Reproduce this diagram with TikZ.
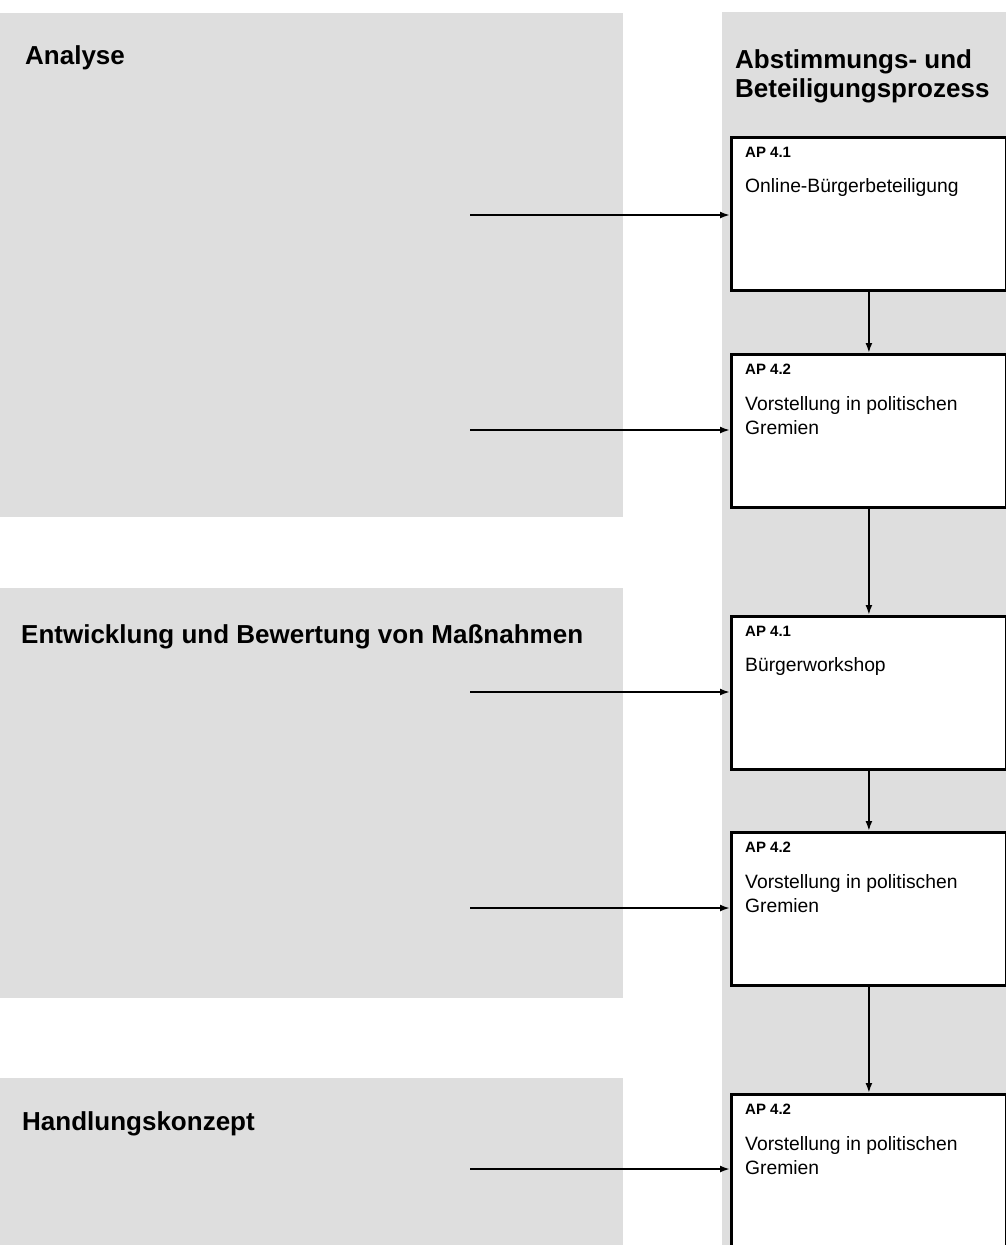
\documentclass[tikz,border=0pt]{standalone}
\usepackage{fontspec}
\setsansfont{Liberation Sans}
\usetikzlibrary{arrows.meta,positioning}
\definecolor{stipplegray}{HTML}{DEDEDE}

\begin{document}
\begin{tikzpicture}[
    x=1pt, y=-1pt,
    font=\sffamily,
    panel/.style={fill=stipplegray, inner sep=0pt, anchor=north west},
    heading/.style={font=\sffamily\bfseries\fontsize{26}{29}\selectfont, inner sep=0pt, align=left},
    apbox/.style={draw, line width=2.8pt, fill=white, minimum width=275pt, minimum height=153pt, anchor=north west, inner sep=0pt},
    aphead/.style={font=\sffamily\bfseries\fontsize{15}{18}\selectfont, inner sep=0pt},
    aptext/.style={font=\sffamily\fontsize{19.3}{24}\selectfont, inner sep=0pt, align=left},
    arrow/.style={-{Latex[length=10pt,width=7pt]}, line width=2.2pt}
]
\useasboundingbox (0,0) rectangle (1006,1245);

% stippled backgrounds
\node[panel, minimum width=623pt, minimum height=504pt] (analyse) at (0,13) {};
\node[panel, minimum width=623pt, minimum height=410pt] (massnahmen) at (0,588) {};
\node[panel, minimum width=623pt, minimum height=170pt] (konzept) at (0,1078) {};
\node[panel, minimum width=284pt, minimum height=1236pt] (prozess) at (722,12) {};

\node[heading, below right=32pt and 25pt of analyse.north west] (analysetitle) {Analyse};
\node[heading, below right=36pt and 21pt of massnahmen.north west] (massnahmentitle) {Entwicklung und Bewertung von Maßnahmen};
\node[heading, below right=33pt and 22pt of konzept.north west] (konzepttitle) {Handlungskonzept};
\node[heading, below right=37pt and 13pt of prozess.north west] (prozesstitle) {Abstimmungs- und\\Beteiligungsprozess};

% work packages
\node[apbox] (ap1) at (730,136) {};
\node[apbox] (ap2) at (730,353) {};
\node[apbox] (ap3) at (730,615) {};
\node[apbox] (ap4) at (730,831) {};
\node[apbox] (ap5) at (730,1093) {};

\node[aphead, below right=11pt and 15pt of ap1.north west] (ap1head) {AP 4.1};
\node[aptext, below right=21pt and 0pt of ap1head.south west] (ap1text) {Online-Bürgerbeteiligung};
\node[aphead, below right=11pt and 15pt of ap2.north west] (ap2head) {AP 4.2};
\node[aptext, below right=21pt and 0pt of ap2head.south west] (ap2text) {Vorstellung in politischen\\Gremien};
\node[aphead, below right=11pt and 15pt of ap3.north west] (ap3head) {AP 4.1};
\node[aptext, below right=21pt and 0pt of ap3head.south west] (ap3text) {Bürgerworkshop};
\node[aphead, below right=11pt and 15pt of ap4.north west] (ap4head) {AP 4.2};
\node[aptext, below right=21pt and 0pt of ap4head.south west] (ap4text) {Vorstellung in politischen\\Gremien};
\node[aphead, below right=11pt and 15pt of ap5.north west] (ap5head) {AP 4.2};
\node[aptext, below right=21pt and 0pt of ap5head.south west] (ap5text) {Vorstellung in politischen\\Gremien};

% inputs from the left
\coordinate (in1) at (470,215);
\coordinate (in2) at (470,430);
\coordinate (in3) at (470,692);
\coordinate (in4) at (470,908);
\coordinate (in5) at (470,1169);
\draw[arrow] (in1) -- (in1 -| ap1.west);
\draw[arrow] (in2) -- (in2 -| ap2.west);
\draw[arrow] (in3) -- (in3 -| ap3.west);
\draw[arrow] (in4) -- (in4 -| ap4.west);
\draw[arrow] (in5) -- (in5 -| ap5.west);

\draw[arrow] (ap1) -- (ap2);
\draw[arrow] (ap2) -- (ap3);
\draw[arrow] (ap3) -- (ap4);
\draw[arrow] (ap4) -- (ap5);
\end{tikzpicture}
\end{document}
